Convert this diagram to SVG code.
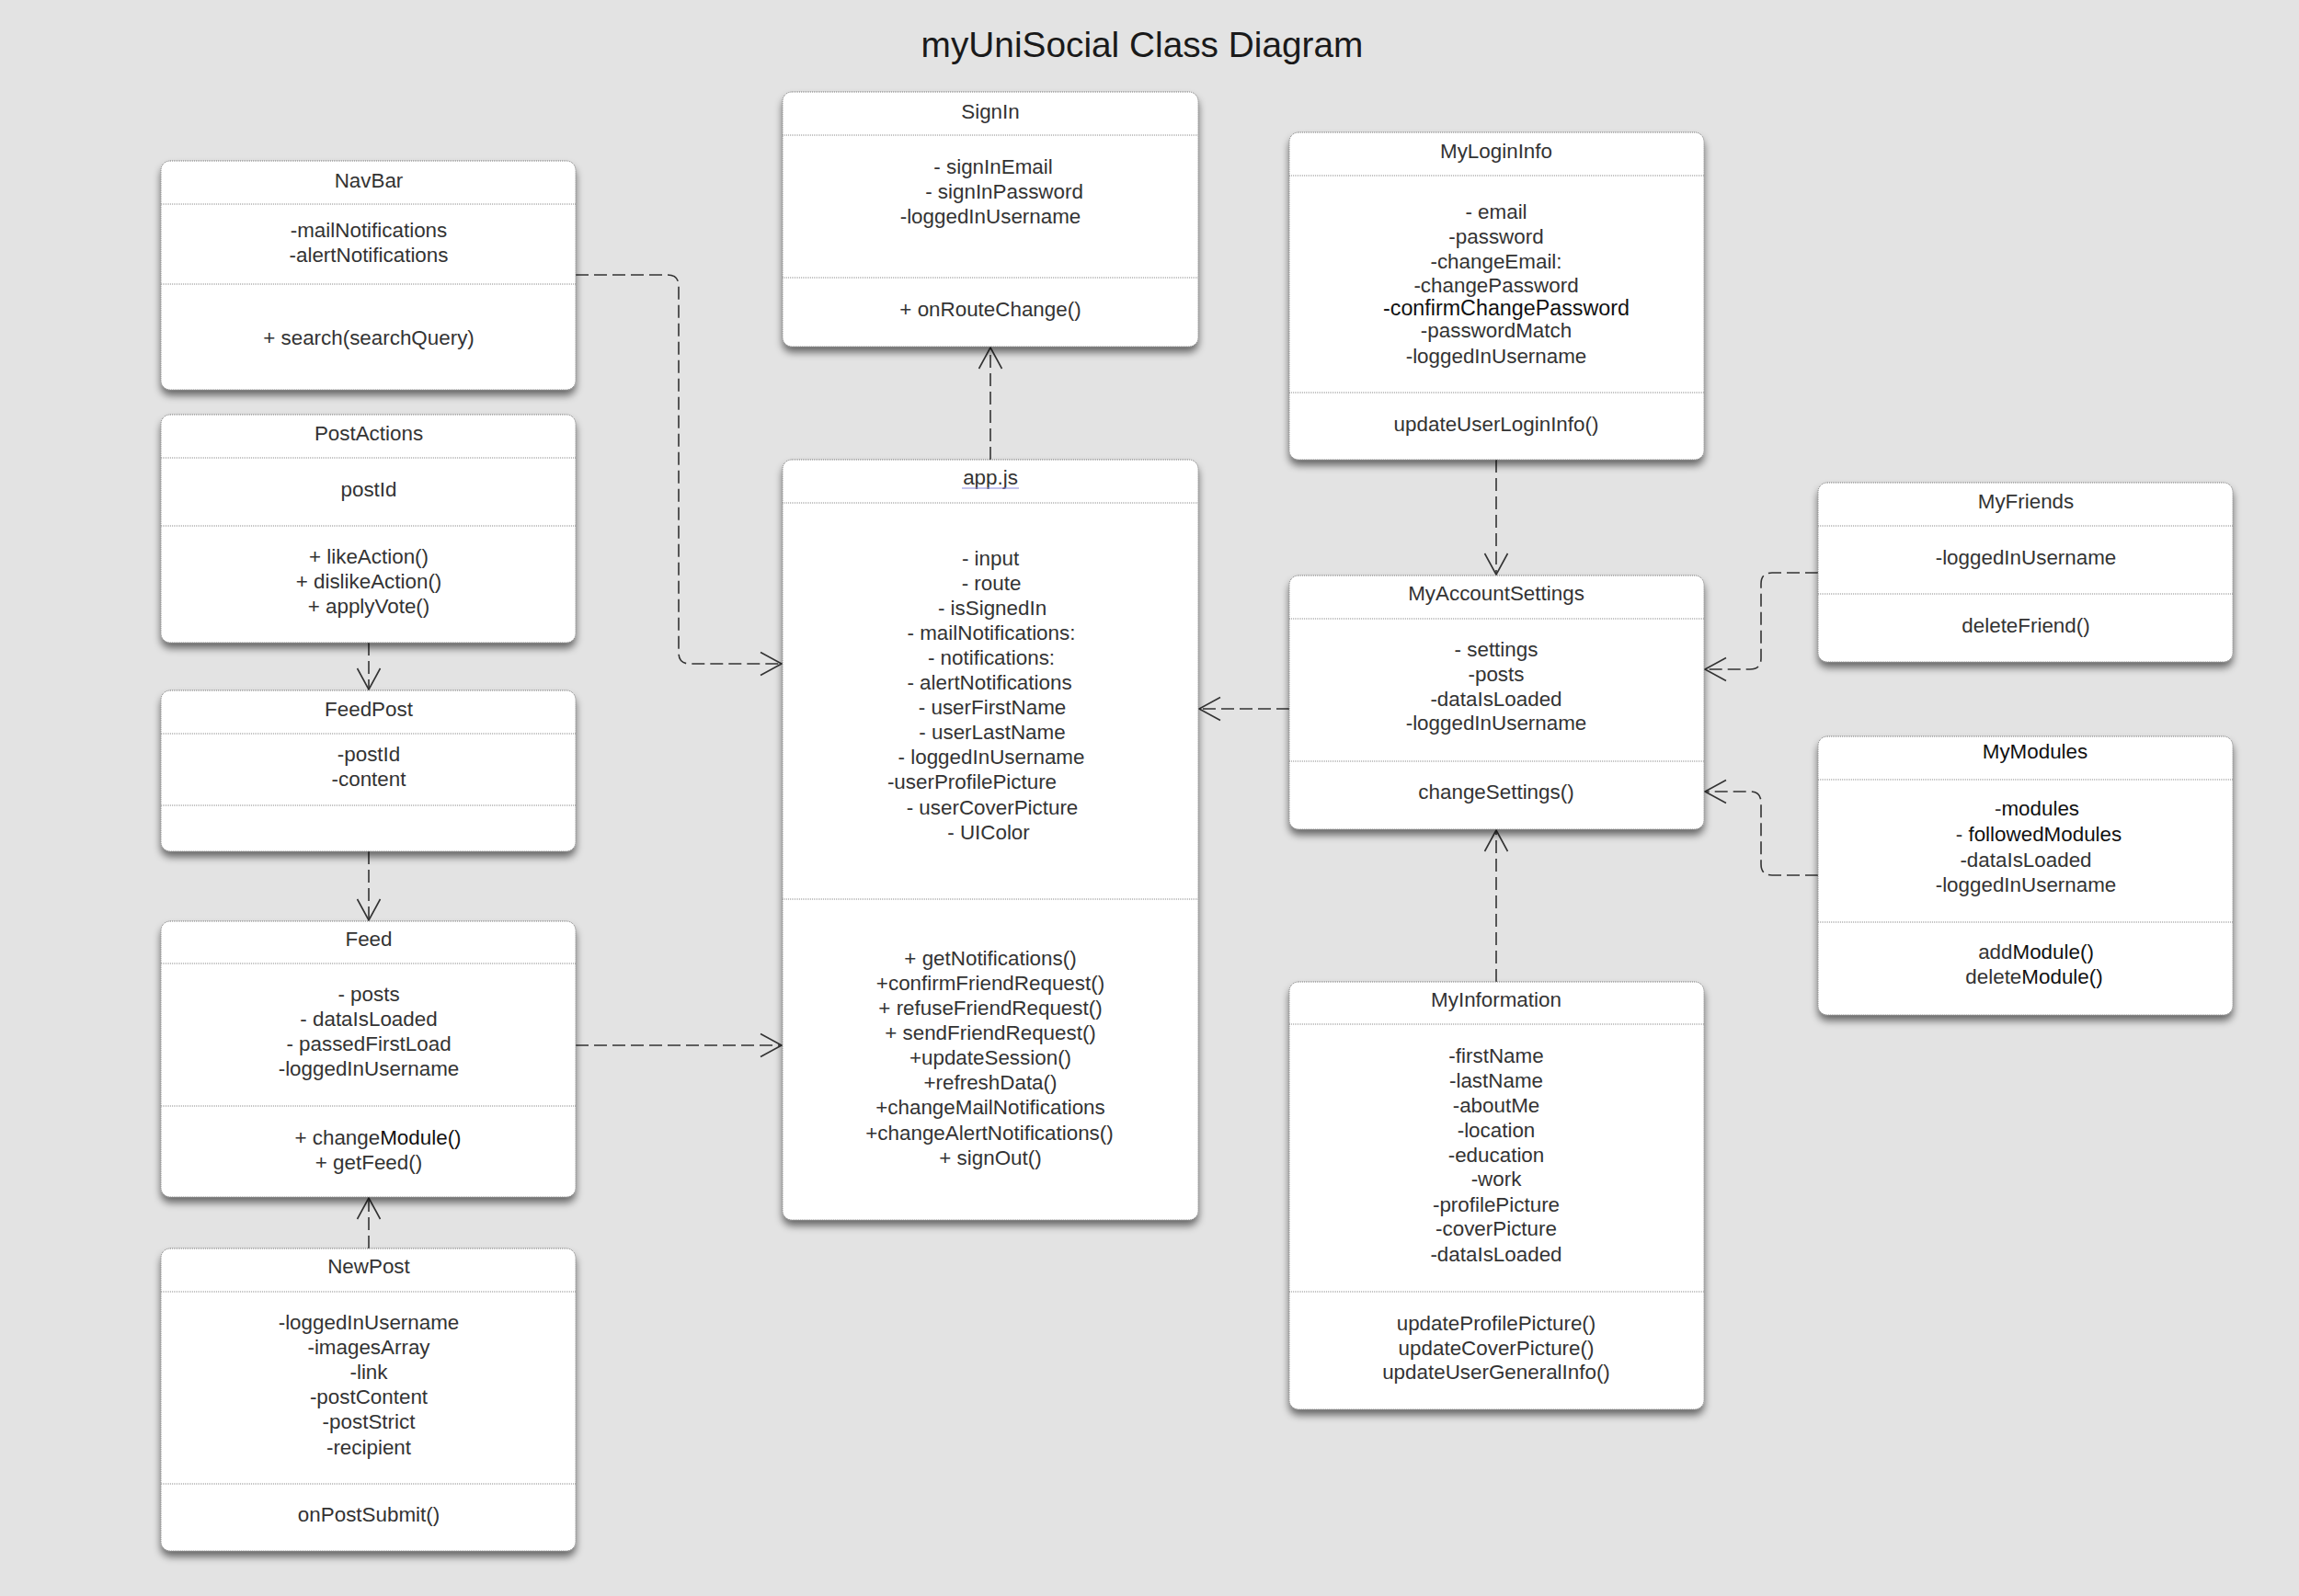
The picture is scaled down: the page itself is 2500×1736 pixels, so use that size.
<svg xmlns="http://www.w3.org/2000/svg" width="2500" height="1736" viewBox="0 0 2500 1736">
<defs>
<filter id="sh" x="-10%" y="-10%" width="120%" height="125%">
<feGaussianBlur in="SourceAlpha" stdDeviation="4"/>
<feOffset dx="0" dy="6" result="b"/>
<feComponentTransfer><feFuncA type="linear" slope="0.55"/></feComponentTransfer>
<feMerge><feMergeNode/><feMergeNode in="SourceGraphic"/></feMerge>
</filter>
<marker id="arr" viewBox="-26 -15 30 30" refX="0" refY="0" markerWidth="30" markerHeight="30" markerUnits="userSpaceOnUse" orient="auto">
<path d="M-23,-12.5 L0,0 L-23,12.5" fill="none" stroke="#333" stroke-width="1.6" stroke-dasharray="none"/>
</marker>
<style>
.box{fill:#fff;stroke:#777;stroke-width:1;stroke-dasharray:1 1;filter:url(#sh)}
.div{stroke:#888;stroke-width:1;stroke-dasharray:1 1}
.t{font-family:"Liberation Sans",Arial,sans-serif;font-size:22.4px;fill:#333;text-anchor:middle}
.dk{fill:#111}
.con{fill:none;stroke:#333;stroke-width:1.6;stroke-dasharray:14 6;marker-end:url(#arr)}
</style>
</defs>
<rect width="2500" height="1736" fill="#e3e3e3"/>
<text x="1242" y="62" font-family="'Liberation Sans',Arial,sans-serif" font-size="38.8" fill="#1a1a1a" text-anchor="middle">myUniSocial Class Diagram</text>

<g id="connectors">
<path class="con" d="M626,299 H726 Q738,299 738,311 V710 Q738,722 750,722 H850"/>
<path class="con" d="M401,699 V750"/>
<path class="con" d="M401,926 V1001"/>
<path class="con" d="M401,1358 V1303"/>
<path class="con" d="M626,1137 H850"/>
<path class="con" d="M1077,500 V378"/>
<path class="con" d="M1627,500 V625"/>
<path class="con" d="M1402,771 H1304"/>
<path class="con" d="M1627,1068 V903"/>
<path class="con" d="M1977,623 H1927 Q1915,623 1915,635 V716 Q1915,728 1903,728 H1854"/>
<path class="con" d="M1977,952 H1927 Q1915,952 1915,940 V873 Q1915,861 1903,861 H1854"/>
</g>

<g id="NavBar">
<rect class="box" x="175" y="175" width="451" height="249" rx="10"/>
<line class="div" x1="175" y1="222" x2="626" y2="222"/>
<line class="div" x1="175" y1="309" x2="626" y2="309"/>
<text class="t" x="401" y="204">NavBar</text>
<text class="t" x="401" y="258">-mailNotifications</text>
<text class="t" x="401" y="285">-alertNotifications</text>
<text class="t" x="401" y="375">+ search(searchQuery)</text>
</g>

<g id="PostActions">
<rect class="box" x="175" y="451" width="451" height="248" rx="10"/>
<line class="div" x1="175" y1="498" x2="626" y2="498"/>
<line class="div" x1="175" y1="572" x2="626" y2="572"/>
<text class="t" x="401" y="479">PostActions</text>
<text class="t" x="401" y="540">postId</text>
<text class="t" x="401" y="613">+ likeAction()</text>
<text class="t" x="401" y="640">+ dislikeAction()</text>
<text class="t" x="401" y="667">+ applyVote()</text>
</g>

<g id="FeedPost">
<rect class="box" x="175" y="751" width="451" height="175" rx="10"/>
<line class="div" x1="175" y1="798" x2="626" y2="798"/>
<line class="div" x1="175" y1="876" x2="626" y2="876"/>
<text class="t" x="401" y="779">FeedPost</text>
<text class="t" x="401" y="828">-postId</text>
<text class="t" x="401" y="855">-content</text>
</g>

<g id="Feed">
<rect class="box" x="175" y="1002" width="451" height="300" rx="10"/>
<line class="div" x1="175" y1="1048" x2="626" y2="1048"/>
<line class="div" x1="175" y1="1203" x2="626" y2="1203"/>
<text class="t" x="401" y="1029">Feed</text>
<text class="t" x="401" y="1089">- posts</text>
<text class="t" x="401" y="1116">- dataIsLoaded</text>
<text class="t" x="401" y="1143">- passedFirstLoad</text>
<text class="t" x="401" y="1170">-loggedInUsername</text>
<text class="t" x="411" y="1245">+ change<tspan class="dk">Module()</tspan></text>
<text class="t" x="401" y="1272">+ getFeed()</text>
</g>

<g id="NewPost">
<rect class="box" x="175" y="1358" width="451" height="329" rx="10"/>
<line class="div" x1="175" y1="1405" x2="626" y2="1405"/>
<line class="div" x1="175" y1="1614" x2="626" y2="1614"/>
<text class="t" x="401" y="1385">NewPost</text>
<text class="t" x="401" y="1446">-loggedInUsername</text>
<text class="t" x="401" y="1473">-imagesArray</text>
<text class="t" x="401" y="1500">-link</text>
<text class="t" x="401" y="1527">-postContent</text>
<text class="t" x="401" y="1554">-postStrict</text>
<text class="t" x="401" y="1582">-recipient</text>
<text class="t" x="401" y="1655">onPostSubmit()</text>
</g>

<g id="SignIn">
<rect class="box" x="851" y="100" width="452" height="277" rx="10"/>
<line class="div" x1="851" y1="147" x2="1303" y2="147"/>
<line class="div" x1="851" y1="302" x2="1303" y2="302"/>
<text class="t" x="1077" y="129">SignIn</text>
<text class="t" x="1080" y="189">- signInEmail</text>
<text class="t" x="1092" y="216">- signInPassword</text>
<text class="t" x="1077" y="243">-loggedInUsername</text>
<text class="t" x="1077" y="344">+ onRouteChange()</text>
</g>

<g id="app_js">
<rect class="box" x="851" y="500" width="452" height="827" rx="10"/>
<line class="div" x1="851" y1="547" x2="1303" y2="547"/>
<line class="div" x1="851" y1="978" x2="1303" y2="978"/>
<text class="t" x="1077" y="527">app.js</text>
<line x1="1046" y1="531" x2="1108" y2="531" stroke="#8a8ae0" stroke-width="1"/>
<text class="t" x="1077" y="615">- input</text>
<text class="t" x="1078" y="642">- route</text>
<text class="t" x="1079" y="669">- isSignedIn</text>
<text class="t" x="1078" y="696">- mailNotifications:</text>
<text class="t" x="1078" y="723">- notifications:</text>
<text class="t" x="1076" y="750">- alertNotifications</text>
<text class="t" x="1079" y="777">- userFirstName</text>
<text class="t" x="1079" y="804">- userLastName</text>
<text class="t" x="1078" y="831">- loggedInUsername</text>
<text class="t" x="1057" y="858">-userProfilePicture</text>
<text class="t" x="1079" y="886">- userCoverPicture</text>
<text class="t" x="1075" y="913">- UIColor</text>
<text class="t" x="1077" y="1050">+ getNotifications()</text>
<text class="t" x="1077" y="1077">+confirmFriendRequest()</text>
<text class="t" x="1077" y="1104">+ refuseFriendRequest()</text>
<text class="t" x="1077" y="1131">+ sendFriendRequest()</text>
<text class="t" x="1077" y="1158">+updateSession()</text>
<text class="t" x="1077" y="1185">+refreshData()</text>
<text class="t" x="1077" y="1212">+changeMailNotifications</text>
<text class="t" x="1076" y="1240">+changeAlertNotifications()</text>
<text class="t" x="1077" y="1267">+ signOut()</text>
</g>

<g id="MyLoginInfo">
<rect class="box" x="1402" y="144" width="451" height="356" rx="10"/>
<line class="div" x1="1402" y1="191" x2="1853" y2="191"/>
<line class="div" x1="1402" y1="427" x2="1853" y2="427"/>
<text class="t" x="1627" y="172">MyLoginInfo</text>
<text class="t" x="1627" y="238">- email</text>
<text class="t" x="1627" y="265">-password</text>
<text class="t" x="1627" y="292">-changeEmail:</text>
<text class="t" x="1627" y="318">-changePassword</text>
<text class="t dk" x="1638" y="343" style="font-size:23.3px">-confirmChangePassword</text>
<text class="t" x="1627" y="367">-passwordMatch</text>
<text class="t" x="1627" y="395">-loggedInUsername</text>
<text class="t" x="1627" y="469">updateUserLoginInfo()</text>
</g>

<g id="MyAccountSettings">
<rect class="box" x="1402" y="626" width="451" height="276" rx="10"/>
<line class="div" x1="1402" y1="673" x2="1853" y2="673"/>
<line class="div" x1="1402" y1="828" x2="1853" y2="828"/>
<text class="t" x="1627" y="653">MyAccountSettings</text>
<text class="t" x="1627" y="714">- settings</text>
<text class="t" x="1627" y="741">-posts</text>
<text class="t" x="1627" y="768">-dataIsLoaded</text>
<text class="t" x="1627" y="794">-loggedInUsername</text>
<text class="t" x="1627" y="869">changeSettings()</text>
</g>

<g id="MyInformation">
<rect class="box" x="1402" y="1068" width="451" height="465" rx="10"/>
<line class="div" x1="1402" y1="1114" x2="1853" y2="1114"/>
<line class="div" x1="1402" y1="1405" x2="1853" y2="1405"/>
<text class="t" x="1627" y="1095">MyInformation</text>
<text class="t" x="1627" y="1156">-firstName</text>
<text class="t" x="1627" y="1183">-lastName</text>
<text class="t" x="1627" y="1210">-aboutMe</text>
<text class="t" x="1627" y="1237">-location</text>
<text class="t" x="1627" y="1264">-education</text>
<text class="t" x="1627" y="1290">-work</text>
<text class="t" x="1627" y="1318">-profilePicture</text>
<text class="t" x="1627" y="1344">-coverPicture</text>
<text class="t" x="1627" y="1372">-dataIsLoaded</text>
<text class="t" x="1627" y="1447">updateProfilePicture()</text>
<text class="t" x="1627" y="1474">updateCoverPicture()</text>
<text class="t" x="1627" y="1500">updateUserGeneralInfo()</text>
</g>

<g id="MyFriends">
<rect class="box" x="1977" y="525" width="451" height="195" rx="10"/>
<line class="div" x1="1977" y1="572" x2="2428" y2="572"/>
<line class="div" x1="1977" y1="646" x2="2428" y2="646"/>
<text class="t" x="2203" y="553">MyFriends</text>
<text class="t" x="2203" y="614">-loggedInUsername</text>
<text class="t" x="2203" y="688">deleteFriend()</text>
</g>

<g id="MyModules">
<rect class="box" x="1977" y="801" width="451" height="303" rx="10"/>
<line class="div" x1="1977" y1="848" x2="2428" y2="848"/>
<line class="div" x1="1977" y1="1003" x2="2428" y2="1003"/>
<text class="t dk" x="2213" y="825">MyModules</text>
<text class="t" x="2215" y="887">-<tspan class="dk">modules</tspan></text>
<text class="t" x="2217" y="915">- <tspan class="dk">followedModules</tspan></text>
<text class="t" x="2203" y="943">-dataIsLoaded</text>
<text class="t" x="2203" y="970">-loggedInUsername</text>
<text class="t" x="2214" y="1043">add<tspan class="dk">Module()</tspan></text>
<text class="t" x="2212" y="1070">delete<tspan class="dk">Module()</tspan></text>
</g>
</svg>
